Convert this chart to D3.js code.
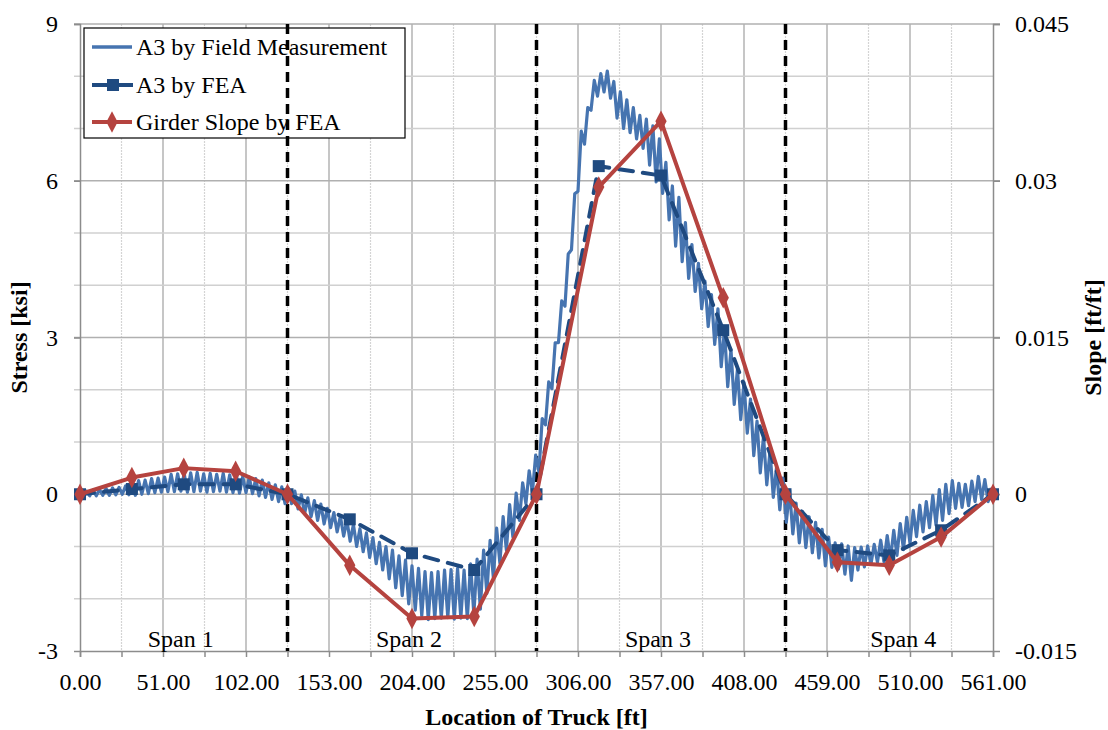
<!DOCTYPE html>
<html><head><meta charset="utf-8">
<script src="https://cdn.jsdelivr.net/npm/d3@7/dist/d3.min.js"></script>
<style>
body{margin:0;background:#fff}
text{font-family:"Liberation Serif","Times New Roman",serif;fill:#000}
</style>
</head><body>
<svg id="chart" width="1108" height="730"></svg>
<script>
// ---------- data ----------
const xTickValues = [0,51,102,153,204,255,306,357,408,459,510,561];
const stressTickValues = [-3,0,3,6,9];
const stressTickLabels = ["-3","0","3","6","9"];
const slopeTickValues = [-0.015,0,0.015,0.03,0.045];
const slopeTickLabels = ["-0.015","0","0.015","0.03","0.045"];
const spanBounds = [127.5,280.5,433.5];
const spanNames = ["Span 1","Span 2","Span 3","Span 4"];
const spanEdges = [0,127.5,280.5,433.5,561];
const seriesNames = ["A3 by Field Measurement","A3 by FEA","Girder Slope by FEA"];

const feaX = [0,31.875,63.75,95.625,127.5,165.75,204,242.25,280.5,318.75,357,395.25,433.5,465.375,497.25,529.125,561];
const feaStress = [0,0.10,0.19,0.19,0,-0.48,-1.13,-1.45,0,6.28,6.10,3.14,0,-1.07,-1.17,-0.69,0];
const slopeFEA = [0,0.0016,0.0025,0.0022,0,-0.0068,-0.0119,-0.0117,0,0.0294,0.0357,0.0188,0,-0.0065,-0.0068,-0.0041,0];

// field measurement, sampled every 2 ft from 0 ft
const fieldStep = 2;
const fieldStress = [
0.00,-0.04,0.06,-0.03,0.08,-0.03,0.09,-0.02,0.11,-0.02,0.12,-0.01,0.13,0.00,0.16,-0.01,
0.24,-0.02,0.26,0.00,0.27,0.01,0.30,0.03,0.31,0.04,0.33,0.05,
0.38,0.05,0.39,0.06,0.40,0.04,0.41,0.05,0.42,0.06,0.39,0.04,0.40,0.05,0.38,0.06,0.40,0.04,0.37,0.03,0.38,0.02,
0.34,0.03,0.33,0.01,0.30,-0.03,0.27,-0.06,0.22,-0.10,0.18,-0.14,0.14,-0.18,
0.12,-0.18,0.06,-0.28,-0.01,-0.37,-0.07,-0.43,-0.12,-0.50,-0.19,-0.57,-0.27,-0.64,-0.35,-0.72,-0.42,-0.80,-0.50,
-0.90,-0.58,-1.00,-0.66,-1.10,-0.74,-1.21,-0.83,-1.33,-0.92,
-1.45,-1.00,-1.62,-1.07,-1.79,-1.18,-1.94,-1.26,-2.10,-1.37,-2.22,-1.42,-2.33,-1.48,-2.40,-1.50,-2.38,-1.48,-2.37,
-1.45,-2.36,-1.44,-2.39,-1.42,-2.37,-1.45,-2.38,-1.33,-2.30,-1.24,-2.20,
-1.07,-1.90,-0.88,-1.60,-0.65,-1.32,-0.43,-1.07,-0.20,-0.82,
0.02,-0.50,0.22,-0.18,0.45,0.04,0.75,0.42,1.45,1.33,2.15,2.02,2.90,2.90,3.70,3.60,4.60,4.68,5.75,5.80,6.95,6.70,
7.40,7.35,7.92,7.62,8.05,7.70,8.10,7.58,7.90,7.20,7.70,7.00,7.55,6.92,7.40,6.80,7.25,6.62,7.18,6.30,
7.05,5.98,6.80,5.76,6.35,5.25,5.90,4.75,5.68,4.45,5.20,4.13,4.78,3.88,4.42,3.55,4.08,3.21,3.82,2.87,
3.55,2.44,3.15,2.06,2.77,1.72,2.40,1.43,2.14,1.17,1.82,0.74,1.40,0.41,1.11,0.18,0.83,-0.06,0.52,-0.30,
0.31,-0.54,0.08,-0.76,-0.17,-0.93,-0.33,-1.02,-0.43,-1.12,-0.54,-1.22,-0.67,-1.37,-0.82,-1.40,-0.93,-1.43,-0.95,-1.53,
-0.99,-1.65,-1.02,-1.45,-1.01,-1.39,-0.99,-1.34,-0.96,-1.30,-0.88,-1.29,-0.79,-1.25,-0.69,-1.17,-0.56,-1.06,-0.44,-0.94,
-0.31,-0.81,-0.21,-0.72,-0.14,-0.64,-0.02,-0.59,0.09,-0.50,0.19,-0.37,0.26,-0.27,0.21,-0.25,0.19,-0.22,0.25,-0.14,
0.34,-0.10,0.28,-0.14,0.12
];

// ---------- layout ----------
const W = 1108, H = 730;
const m = {left:80, right:115, top:24, bottom:79};
const pw = W - m.left - m.right, ph = H - m.top - m.bottom;
const svg = d3.select("#chart");
const g = svg.append("g").attr("transform",`translate(${m.left},${m.top})`);

const x = d3.scaleLinear().domain([0,561]).range([0,pw]);
const y = d3.scaleLinear().domain([-3,9]).range([ph,0]);
const y2 = d3.scaleLinear().domain([-0.015,0.045]).range([ph,0]);

const FS = 24;
const minorX = d3.range(0,562,25.5);
const minorY = d3.range(-3,10,1);

// gridlines
g.append("g").selectAll("line").data(minorX.filter(v=>Math.round(v*10)%510!==0))
  .join("line").attr("x1",d=>x(d)).attr("x2",d=>x(d)).attr("y1",0).attr("y2",ph)
  .attr("stroke","#d4d4d4").attr("stroke-width",1.2).attr("stroke-dasharray","2,1");
g.append("g").selectAll("line").data(xTickValues.slice(1,-1))
  .join("line").attr("x1",d=>x(d)).attr("x2",d=>x(d)).attr("y1",0).attr("y2",ph)
  .attr("stroke","#a8a8a8").attr("stroke-width",1.3);
g.append("g").selectAll("line").data(minorY.filter(v=>v%3!==0))
  .join("line").attr("x1",-6).attr("x2",pw).attr("y1",d=>y(d)).attr("y2",d=>y(d))
  .attr("stroke","#d0d0d0").attr("stroke-width",1.5);
g.append("g").selectAll("line").data(stressTickValues.filter(v=>v!==-3))
  .join("line").attr("x1",-6).attr("x2",pw+7).attr("y1",d=>y(d)).attr("y2",d=>y(d))
  .attr("stroke","#b0b0b0").attr("stroke-width",1.5);

// axes
const axL = d3.axisLeft(y).tickValues(stressTickValues).tickSize(6).tickPadding(16).tickFormat((d,i)=>stressTickLabels[i]);
const axR = d3.axisRight(y2).tickValues(slopeTickValues).tickSize(7).tickPadding(15).tickFormat((d,i)=>slopeTickLabels[i]);
const axB = d3.axisBottom(x).tickValues(minorX).tickSize(6).tickPadding(16)
  .tickFormat(d=> xTickValues.includes(d) ? d3.format(".2f")(d) : "");
function styleAxis(sel){
  sel.select(".domain").attr("stroke","#8c8c8c").attr("stroke-width",1.5);
  sel.selectAll(".tick line").attr("stroke","#8c8c8c").attr("stroke-width",1.5);
  sel.selectAll(".tick text").attr("font-size",FS).attr("font-family","Liberation Serif").attr("fill","#000");
}
g.append("g").call(axL).call(styleAxis);
g.append("g").attr("transform",`translate(${pw},0)`).call(axR).call(styleAxis).selectAll(".tick text").attr("text-anchor","start");
g.append("g").attr("transform",`translate(0,${ph})`).call(axB).call(styleAxis);
g.selectAll(".domain").attr("d", function(){ return d3.select(this).attr("d").replace(/M-?\d+,/,"M0,").replace(/V0H-?\d+/,"V0").replace(/H-?\d+V/,"V"); });

// legend
const lg = g.append("g").attr("transform","translate(4,4)");
lg.append("rect").attr("width",321).attr("height",110).attr("fill","#fff").attr("stroke","#000").attr("stroke-width",1.2);
const rowY = [19,57,94];
lg.append("line").attr("x1",8).attr("x2",48).attr("y1",rowY[0]).attr("y2",rowY[0]).attr("stroke","#4674b0").attr("stroke-width",3.5);
lg.append("line").attr("x1",8).attr("x2",50).attr("y1",rowY[1]).attr("y2",rowY[1]).attr("stroke","#1f4a80").attr("stroke-width",4).attr("stroke-dasharray","16,9");
lg.append("rect").attr("x",23).attr("y",rowY[1]-6).attr("width",12).attr("height",12).attr("fill","#1f4a80");
lg.append("line").attr("x1",8).attr("x2",48).attr("y1",rowY[2]).attr("y2",rowY[2]).attr("stroke","#b5433f").attr("stroke-width",4);
lg.append("path").attr("d",d3.symbol(d3.symbolDiamond,110)()).attr("transform",`translate(28,${rowY[2]}) scale(1,1.1)`).attr("fill","#b5433f");
lg.selectAll("text.lt").data(seriesNames).join("text").attr("class","lt")
  .attr("x",52).attr("y",(d,i)=>rowY[i]+8).attr("font-size",FS).text(d=>d);

// span divider lines
g.append("g").selectAll("line").data(spanBounds).join("line")
  .attr("x1",d=>x(d)).attr("x2",d=>x(d)).attr("y1",0).attr("y2",ph)
  .attr("stroke","#000").attr("stroke-width",3.5).attr("stroke-dasharray","10,6");

// span labels
g.append("g").selectAll("text").data(spanNames).join("text")
  .attr("x",(d,i)=>x((spanEdges[i]+spanEdges[i+1])/2) + (i===3?14:-3))
  .attr("y",ph-4).attr("text-anchor","middle").attr("font-size",FS).text(d=>d);

// field measurement
const fieldLine = d3.line().x((d,i)=>x(i*fieldStep)).y(d=>y(d));
g.append("path").datum(fieldStress).attr("d",fieldLine).attr("fill","none")
  .attr("stroke","#4674b0").attr("stroke-width",3.2).attr("stroke-linejoin","round");

// FEA stress
const feaData = feaX.map((v,i)=>[v,feaStress[i]]);
g.append("path").datum(feaData).attr("d",d3.line().x(d=>x(d[0])).y(d=>y(d[1])))
  .attr("fill","none").attr("stroke","#1f4a80").attr("stroke-width",4).attr("stroke-dasharray","14,10").attr("stroke-linecap","round");
g.append("g").selectAll("rect").data(feaData).join("rect")
  .attr("x",d=>x(d[0])-6).attr("y",d=>y(d[1])-6).attr("width",12).attr("height",12).attr("fill","#1f4a80");

// slope FEA
const slopeData = feaX.map((v,i)=>[v,slopeFEA[i]]);
g.append("path").datum(slopeData).attr("d",d3.line().x(d=>x(d[0])).y(d=>y2(d[1])))
  .attr("fill","none").attr("stroke","#b5433f").attr("stroke-width",4).attr("stroke-linejoin","round");
g.append("g").selectAll("path").data(slopeData).join("path")
  .attr("d",d3.symbol(d3.symbolDiamond,110)())
  .attr("transform",d=>`translate(${x(d[0])},${y2(d[1])}) scale(1,1.1)`).attr("fill","#b5433f");

// axis titles
svg.append("text").attr("transform",`translate(27,${m.top+ph/2}) rotate(-90)`).attr("text-anchor","middle")
  .attr("font-size",FS).attr("font-weight","bold").text("Stress [ksi]");
svg.append("text").attr("transform",`translate(1101,${m.top+ph/2}) rotate(-90)`).attr("text-anchor","middle")
  .attr("font-size",FS).attr("font-weight","bold").text("Slope [ft/ft]");
svg.append("text").attr("x",m.left+pw/2).attr("y",725).attr("text-anchor","middle")
  .attr("font-size",FS).attr("font-weight","bold").text("Location of Truck [ft]");
</script>
</body></html>
